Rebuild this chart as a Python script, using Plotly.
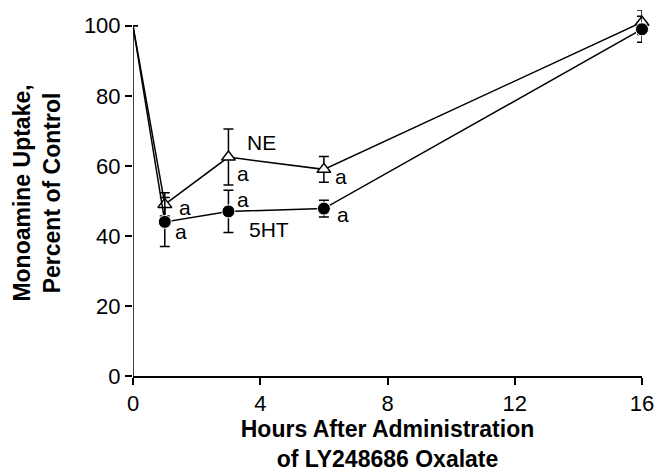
import plotly.graph_objects as go

hours = [0, 1, 3, 6, 16]
ne_values = [100, 49, 62.5, 59, 101]
ne_err = [0, 3.3, 8, 3.7, 3.5]
ht_values = [100, 44, 47, 47.8, 99]
ht_err = [0, 7, 6, 2.4, 3.7]
x_ticks = [0, 4, 8, 12, 16]
y_ticks = [0, 20, 40, 60, 80, 100]

FONT = "Liberation Sans, Arial, Helvetica, sans-serif"

fig = go.Figure()
fig.add_trace(go.Scatter(
    x=hours, y=ne_values, mode="lines+markers",
    line=dict(color="black", width=1.5),
    marker=dict(symbol="triangle-up", size=[0, 12, 12, 12, 12], color="white",
                opacity=1, line=dict(width=1.5, color="black")),
    error_y=dict(type="data", array=ne_err, color="black", thickness=1.5, width=5),
    cliponaxis=False, showlegend=False,
))
fig.add_trace(go.Scatter(
    x=hours, y=ht_values, mode="lines+markers",
    line=dict(color="black", width=1.5),
    marker=dict(symbol="circle", size=[0, 13, 13, 13, 13], color="black", opacity=1),
    error_y=dict(type="data", array=ht_err, color="black", thickness=1.5, width=5),
    cliponaxis=False, showlegend=False,
))

# y-axis spine only from 0 to 100
fig.add_shape(type="line", xref="x", yref="y", x0=0, x1=0, y0=0, y1=100,
              line=dict(color="black", width=1.5))

ann_font = dict(family=FONT, size=21, color="black")
labels = [
    ("NE", 3, ne_values[2], 33, 15),
    ("5HT", 3, ht_values[2], 41, -18),
    ("a", 1, ne_values[1], 20, -3),
    ("a", 1, ht_values[1], 16, -10),
    ("a", 3, ne_values[2], 15, -16),
    ("a", 3, ht_values[2], 15, 12),
    ("a", 6, ne_values[3], 17, -7),
    ("a", 6, ht_values[3], 19, -6),
]
for text, xv, yv, dx, dy in labels:
    fig.add_annotation(x=xv, y=yv, text=text, showarrow=False, font=ann_font,
                       xshift=dx, yshift=dy)

fig.update_layout(
    width=667, height=472,
    margin=dict(l=133, r=25, t=10, b=96, autoexpand=False),
    paper_bgcolor="white", plot_bgcolor="white",
    font=dict(family=FONT, color="black"),
    xaxis=dict(
        range=[0, 16], tickvals=x_ticks, ticks="outside", ticklen=7, tickwidth=1.5,
        tickcolor="black", showline=True, linecolor="black", linewidth=1.5,
        showgrid=False, zeroline=False, tickfont=dict(size=22, family=FONT),
        automargin=False,
        title=dict(text="<b>Hours After Administration<br>of LY248686 Oxalate</b>",
                   font=dict(size=23, family=FONT), standoff=13),
    ),
    yaxis=dict(
        range=[0, 104.5], tickvals=y_ticks, ticks="outside", ticklen=7, tickwidth=1.5,
        tickcolor="black", showline=False, showgrid=False, zeroline=False,
        tickfont=dict(size=22, family=FONT), automargin=False,
        title=dict(text="<b>Monoamine Uptake,<br>Percent of Control</b>",
                   font=dict(size=23, family=FONT), standoff=16),
    ),
)

fig.write_html(
    "out.html",
    config={"displayModeBar": False},
    post_script="document.body.style.margin='0';document.body.style.overflow='hidden';",
)
